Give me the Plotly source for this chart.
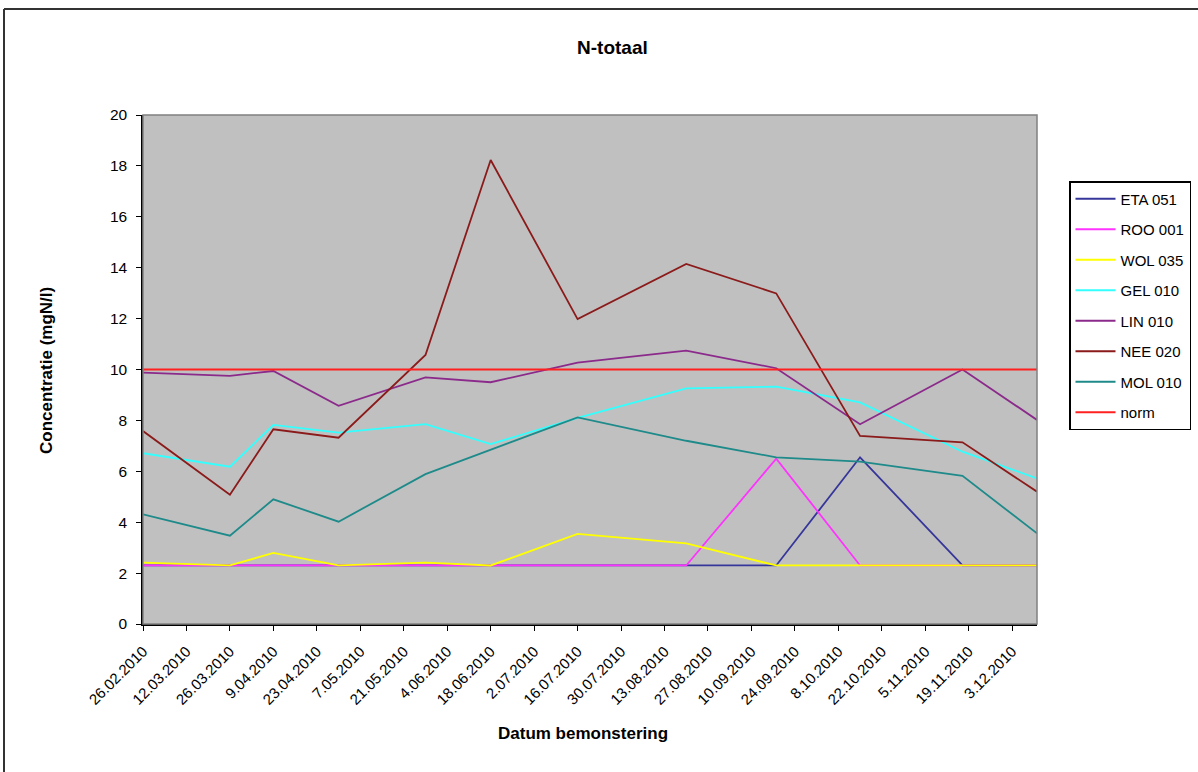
import plotly.graph_objects as go

dates = ["2010-02-26", "2010-03-26", "2010-04-09", "2010-04-30", "2010-05-28", "2010-06-18",
         "2010-07-16", "2010-08-20", "2010-09-18", "2010-10-15", "2010-11-17", "2010-12-11"]

eta_051 = [2.3, 2.3, 2.3, 2.3, 2.3, 2.3, 2.3, 2.3, 2.3, 6.55, 2.3, 2.3]
roo_001 = [2.3, 2.3, 2.3, 2.3, 2.3, 2.3, 2.3, 2.3, 6.5, 2.3, 2.3, 2.3]
wol_035 = [2.41, 2.3, 2.79, 2.3, 2.41, 2.3, 3.54, 3.17, 2.3, 2.3, 2.3, 2.3]
gel_010 = [6.71, 6.18, 7.82, 7.52, 7.85, 7.07, 8.1, 9.26, 9.33, 8.71, 6.77, 5.72]
lin_010 = [9.88, 9.75, 9.94, 8.57, 9.69, 9.5, 10.27, 10.74, 10.05, 7.85, 10.0, 8.02]
nee_020 = [7.58, 5.08, 7.65, 7.32, 10.57, 18.23, 11.98, 14.15, 12.99, 7.39, 7.14, 5.2]
mol_010 = [4.31, 3.47, 4.9, 4.02, 5.89, 6.85, 8.12, 7.2, 6.55, 6.38, 5.82, 3.56]
norm = [10] * len(dates)

series_names = ["ETA 051", "ROO 001", "WOL 035", "GEL 010", "LIN 010", "NEE 020", "MOL 010", "norm"]
series_values = [eta_051, roo_001, wol_035, gel_010, lin_010, nee_020, mol_010, norm]
series_colors = ["#36369A", "#FF33FF", "#FFFF00", "#33FFFF", "#8B2A8B", "#8B1A1A", "#1F8A8A", "#FF2020"]

title_text = "N-totaal"
x_title = "Datum bemonstering"
y_title = "Concentratie (mgN/l)"

FONT = "Liberation Sans, Arial, sans-serif"

fig = go.Figure()
for name, vals, col in zip(series_names, series_values, series_colors):
    fig.add_trace(go.Scatter(
        x=dates, y=vals, mode="lines", name=name,
        line=dict(color=col, width=1.8),
        legendgroup=name,
    ))

W, H = 1198, 772
L, R, T, B = 143, 161, 115, 148
pw = W - L - R
ph = H - T - B

def px_x(p):
    return (p - L) / pw

def px_y(p):
    return (H - B - p) / ph

fig.update_layout(
    width=W, height=H,
    margin=dict(l=L, r=R, t=T, b=B, pad=0, autoexpand=False),
    paper_bgcolor="white",
    plot_bgcolor="#C0C0C0",
    font=dict(family=FONT, color="black", size=15),
    showlegend=True,
    legend=dict(
        x=px_x(1069), y=px_y(181), xanchor="left", yanchor="top",
        bgcolor="white", bordercolor="black", borderwidth=1.5,
        font=dict(family=FONT, size=15, color="black"),
        tracegroupgap=8,
        itemwidth=40,
    ),
    xaxis=dict(
        type="date",
        range=[dates[0], dates[-1]],
        tick0=dates[0], dtick=14 * 24 * 3600 * 1000,
        tickformat="%-d.%m.%Y",
        tickangle=-45,
        ticks="outside", ticklen=5, tickcolor="black", tickwidth=1,
        ticklabelstandoff=6,
        showline=True, linecolor="black", linewidth=1.5,
        showgrid=False, zeroline=False, automargin=False,
        tickfont=dict(family=FONT, size=15, color="black"),
    ),
    yaxis=dict(
        range=[0, 20], tick0=0, dtick=2,
        ticks="outside", ticklen=5, tickcolor="black", tickwidth=1,
        ticklabelstandoff=6,
        showline=True, linecolor="black", linewidth=1.5,
        showgrid=False, zeroline=False, automargin=False,
        tickfont=dict(family=FONT, size=15.5, color="black"),
    ),
    annotations=[
        dict(text="<b>" + title_text + "</b>", xref="paper", yref="paper",
             x=px_x(612), y=px_y(47), showarrow=False, xanchor="center", yanchor="middle",
             font=dict(family=FONT, size=19, color="black")),
        dict(text="<b>" + x_title + "</b>", xref="paper", yref="paper",
             x=px_x(583), y=px_y(733), showarrow=False, xanchor="center", yanchor="middle",
             font=dict(family=FONT, size=17, color="black")),
        dict(text="<b>" + y_title + "</b>", xref="paper", yref="paper",
             x=px_x(46), y=px_y(371), showarrow=False, xanchor="center", yanchor="middle",
             textangle=-90, font=dict(family=FONT, size=17, color="black")),
    ],
    shapes=[
        dict(type="rect", xref="paper", yref="paper", x0=0, y0=0, x1=1, y1=1,
             line=dict(color="#808080", width=1.5), layer="above"),
        dict(type="line", xref="paper", yref="paper", x0=px_x(4), y0=px_y(9), x1=px_x(1200), y1=px_y(9),
             line=dict(color="#333333", width=2)),
        dict(type="line", xref="paper", yref="paper", x0=px_x(4), y0=px_y(9), x1=px_x(4), y1=px_y(775),
             line=dict(color="#333333", width=2)),
    ],
)

fig.write_html("out.html")
